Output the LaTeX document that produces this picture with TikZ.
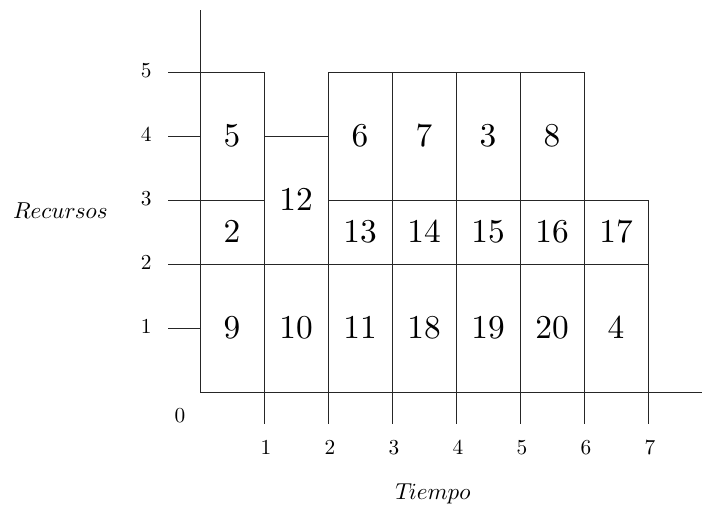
\documentclass[tikz,border=0pt]{standalone}
\font\cellfont=cmr10 at 25pt
\font\tickfont=cmr10 at 16pt
\font\labfont=cmmi10 at 17.28pt
\begin{document}
\begin{tikzpicture}[x=48pt,y=48pt,
  ln/.style={line width=0.65pt,draw=black!85},
  cell/.style={ln,draw,rectangle,inner sep=0pt,outer sep=0pt,minimum width=48pt,font=\cellfont},
  c1/.style={cell,minimum height=48pt},
  c2/.style={cell,minimum height=96pt},
  ticklab/.style={font=\tickfont,inner sep=0pt},
  axlab/.style={font=\labfont,inner sep=0pt}]
\useasboundingbox (-3.125,-1.90625) rectangle (7.84375,6.125);
% axes
\coordinate (O) at (0,0);
\coordinate (ytop) at (0,5.97);
\coordinate (xend) at (7.84375,0);
\draw[ln] (O) -- (ytop);
\draw[ln] (O) -- (xend);
% y ticks
\foreach \k in {1,...,5} {
  \coordinate (yt\k) at (-0.5,\k);
  \coordinate (ya\k) at (0,\k);
  \draw[ln] (yt\k) -- (ya\k);
  \node[ticklab] (yl\k) at (-0.84,\k+0.02) {\k};
}
% x ticks
\foreach \k in {1,...,7} {
  \coordinate (xt\k) at (\k,-0.5);
  \coordinate (xa\k) at (\k,0);
  \draw[ln] (xa\k) -- (xt\k);
  \node[ticklab] (xl\k) at (\k+0.03,-0.875) {\k};
}
\node[ticklab] (zero) at (-0.3125,-0.375) {0};
% cells
\node[c2] (n5) at (0.5,4) {5};
\node[c1] (n2) at (0.5,2.5) {2};
\node[c2] (n9) at (0.5,1) {9};
\node[c2] (n12) at (1.5,3) {12};
\node[c2] (n10) at (1.5,1) {10};
\node[c2] (n6) at (2.5,4) {6};
\node[c2] (n7) at (3.5,4) {7};
\node[c2] (n3) at (4.5,4) {3};
\node[c2] (n8) at (5.5,4) {8};
\node[c1] (n13) at (2.5,2.5) {13};
\node[c1] (n14) at (3.5,2.5) {14};
\node[c1] (n15) at (4.5,2.5) {15};
\node[c1] (n16) at (5.5,2.5) {16};
\node[c1] (n17) at (6.5,2.5) {17};
\node[c2] (n11) at (2.5,1) {11};
\node[c2] (n18) at (3.5,1) {18};
\node[c2] (n19) at (4.5,1) {19};
\node[c2] (n20) at (5.5,1) {20};
\node[c2] (n4) at (6.5,1) {4};
% axis labels
\node[axlab] (rec) at (-2.18,2.84) {Recursos};
\node[axlab] (tie) at (3.64,-1.59) {Tiempo};
\end{tikzpicture}
\end{document}
